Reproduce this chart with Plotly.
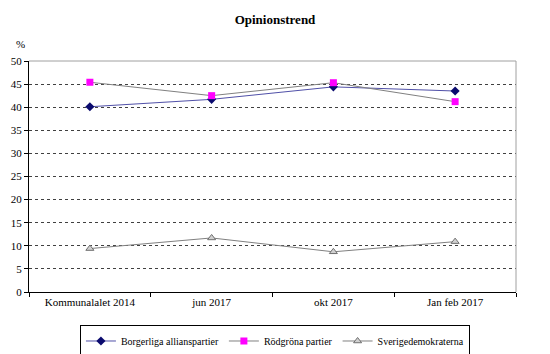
import plotly.graph_objects as go

categories = ["Kommunalalet 2014", "jun 2017", "okt 2017", "Jan feb 2017"]
borgerliga = [40.1, 41.7, 44.4, 43.5]
rodgrona = [45.4, 42.5, 45.3, 41.2]
sd = [9.4, 11.7, 8.7, 10.9]
yticks = [0, 5, 10, 15, 20, 25, 30, 35, 40, 45, 50]

FONT = "'Liberation Serif', 'Times New Roman', Times, serif"

fig = go.Figure()
fig.add_trace(go.Scatter(
    x=categories, y=borgerliga, name="Borgerliga allianspartier",
    mode="lines+markers",
    line=dict(color="#5050a8", width=1),
    marker=dict(symbol="diamond", size=7, color="#0a0a6e"),
))
fig.add_trace(go.Scatter(
    x=categories, y=rodgrona, name="Rödgröna partier",
    mode="lines+markers",
    line=dict(color="#808080", width=1),
    marker=dict(symbol="square", size=7, color="#ff00ff"),
))
fig.add_trace(go.Scatter(
    x=categories, y=sd, name="Sverigedemokraterna",
    mode="lines+markers",
    line=dict(color="#808080", width=1),
    marker=dict(symbol="triangle-up", size=7, color="#d0d0d0",
                line=dict(color="#707070", width=1)),
))

fig.update_layout(
    width=550, height=354,
    margin=dict(l=29, r=34, t=61, b=62, autoexpand=False),
    paper_bgcolor="white", plot_bgcolor="white",
    font=dict(family=FONT, size=11, color="black"),
    title=dict(text="<b>Opinionstrend</b>", x=0.5, xanchor="center",
               y=0.945, yanchor="middle", font=dict(size=13, family=FONT)),
    showlegend=True,
    legend=dict(orientation="h", x=0.505, xanchor="center", y=-0.145, yanchor="top",
                bordercolor="black", borderwidth=1, font=dict(size=10, family=FONT),
                itemwidth=30, tracegroupgap=0),
    xaxis=dict(type="category", tickson="boundaries", ticks="outside", ticklen=4,
               tickcolor="black", showline=True, linecolor="black", linewidth=1,
               mirror=False, showgrid=False, range=[-0.5, 3.5],
               tickfont=dict(size=11, family=FONT)),
    yaxis=dict(range=[0, 50], tickvals=yticks, ticks="outside", ticklen=4,
               tickcolor="black", showline=True, linecolor="black", linewidth=1,
               showgrid=True, gridcolor="#404040", griddash="dot", gridwidth=1,
               zeroline=False, tickfont=dict(size=11, family=FONT)),
    annotations=[dict(text="%", xref="paper", yref="paper", x=-0.03, y=1.11,
                      showarrow=False, font=dict(size=11, family=FONT))],
    shapes=[dict(type="line", xref="paper", yref="paper", x0=0, x1=1, y0=1, y1=1,
                 line=dict(color="#a0a0a0", width=1)),
            dict(type="line", xref="paper", yref="paper", x0=1, x1=1, y0=0, y1=1,
                 line=dict(color="#a0a0a0", width=1))],
)

fig.write_html("out.html")
